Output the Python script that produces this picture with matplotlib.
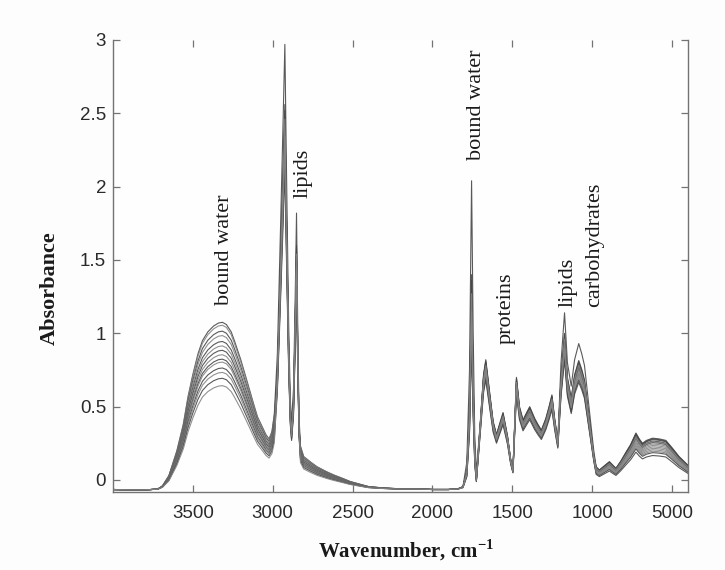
import numpy as np
import matplotlib
matplotlib.use("Agg")
import matplotlib.pyplot as plt

plt.rcParams['mathtext.fontset'] = 'custom'
plt.rcParams['mathtext.rm'] = 'Liberation Serif'
plt.rcParams['mathtext.bf'] = 'Liberation Serif:bold'

# ---- data ----
# reference spectrum (top sample), wavenumber in cm-1 and absorbance
wn_pts = [4000, 3900, 3800, 3720, 3690, 3650, 3600, 3560, 3530, 3500, 3468, 3440,
          3406, 3370, 3340, 3315, 3290, 3260, 3240, 3200, 3157, 3120, 3095, 3060,
          3043, 3023, 3005, 2990, 2971, 2950, 2935, 2924, 2915, 2900, 2890, 2882,
          2870, 2860, 2851, 2843, 2835, 2826, 2806, 2760, 2722, 2660, 2619, 2560,
          2516, 2450, 2400, 2300, 2200, 2100, 2000, 1900, 1840, 1809, 1785, 1768,
          1755, 1745, 1735, 1725, 1700, 1680, 1666, 1640, 1620, 1599, 1580, 1558,
          1530, 1510, 1496, 1474, 1455, 1433, 1410, 1391, 1360, 1340, 1318, 1290,
          1270, 1252, 1235, 1215, 1195, 1173, 1155, 1131, 1110, 1084, 1065, 1048,
          1020, 990, 975, 955, 920, 892, 870, 851, 820, 788, 760, 726, 705, 685,
          660, 622, 580, 539, 500, 456, 400]
abs_pts = [-0.065, -0.068, -0.068, -0.062, -0.04, 0.03, 0.20, 0.38, 0.57, 0.72, 0.86, 0.95,
           1.01, 1.05, 1.07, 1.075, 1.06, 1.01, 0.95, 0.82, 0.66, 0.52, 0.43, 0.35,
           0.31, 0.28, 0.33, 0.45, 0.86, 1.77, 2.45, 2.97, 2.20, 1.05, 0.55, 0.39,
           0.62, 1.20, 1.82, 1.00, 0.42, 0.23, 0.16, 0.12, 0.09, 0.055, 0.035, 0.01,
           -0.01, -0.03, -0.045, -0.055, -0.06, -0.06, -0.065, -0.065, -0.06, -0.045, 0.12, 0.75,
           2.04, 1.00, 0.30, 0.05, 0.40, 0.72, 0.82, 0.58, 0.40, 0.31, 0.38, 0.46,
           0.30, 0.14, 0.07, 0.70, 0.50, 0.41, 0.46, 0.50, 0.42, 0.38, 0.34, 0.42,
           0.50, 0.58, 0.42, 0.27, 0.80, 1.14, 0.80, 0.64, 0.82, 0.93, 0.86, 0.78,
           0.50, 0.20, 0.09, 0.068, 0.10, 0.125, 0.10, 0.08, 0.13, 0.19, 0.24, 0.32, 0.28, 0.25,
           0.27, 0.285, 0.28, 0.27, 0.22, 0.16, 0.10]

# band heights of each sample (sample 0 = reference)
water_peak = [1.07, 1.05, 1.01, 0.98, 0.94, 0.91, 0.88, 0.85, 0.82, 0.80, 0.76, 0.73, 0.69, 0.64]
ch_peak = [2.97, 2.41, 2.56, 2.30, 2.48, 2.38, 2.52, 2.25, 2.44, 2.34, 2.20, 2.46, 2.12, 2.28]
ch2_peak = [1.82, 1.50, 1.60, 1.42, 1.56, 1.47, 1.58, 1.40, 1.52, 1.45, 1.36, 1.54, 1.32, 1.44]
co_peak = [2.04, 1.12, 1.40, 1.05, 1.30, 1.18, 1.36, 1.00, 1.24, 1.15, 0.96, 1.27, 0.92, 1.08]
amide_peak = [0.82, 0.78, 0.80, 0.74, 0.79, 0.76, 0.81, 0.72, 0.77, 0.75, 0.70, 0.78, 0.68, 0.73]
sugar_peak = [1.14, 0.93, 1.00, 0.88, 0.97, 0.92, 0.99, 0.86, 0.95, 0.90, 0.84, 0.96, 0.82, 0.89]
low_peak = [0.29, 0.25, 0.28, 0.22, 0.27, 0.24, 0.285, 0.20, 0.26, 0.23, 0.19, 0.265, 0.17, 0.21]

xticks = [3500, 3000, 2500, 2000, 1500, 1000, 500]
xticklabels = ['3500', '3000', '2500', '2000', '1500', '1000', '5000']
yticks = [0, 0.5, 1, 1.5, 2, 2.5, 3]
yticklabels = ['0', '0.5', '1', '1.5', '2', '2.5', '3']

notes = [("bound water", 3300, 1.19), ("lipids", 2808, 1.92),
         ("bound water", 1725, 2.18), ("proteins", 1538, 0.93),
         ("lipids", 1151, 1.18), ("carbohydrates", 983, 1.18)]

# ---- build sample curves ----
wn = np.array(wn_pts, dtype=float)
ref = np.array(abs_pts)
base = -0.065
bands = [water_peak, ch_peak, ch2_peak, water_peak, co_peak, amide_peak, sugar_peak, low_peak]
region = np.select([wn >= 2990, wn >= 2888, wn >= 2835, wn >= 1800,
                    wn >= 1720, wn >= 1210, wn >= 985], [0, 1, 2, 3, 4, 5, 6], 7)

fig = plt.figure(figsize=(7.25, 5.7), dpi=100, facecolor='#fdfdfd')
ax = fig.add_axes([113/725, 1-492/570, 575/725, 452/570])
ax.set_facecolor('#fefefe')

n = len(water_peak)
for i in range(n):
    fac = np.array([(bands[r][i] - base) / (bands[r][0] - base) for r in region])
    y = base + (ref - base) * fac
    col = '0.28' if i % 2 == 0 else '0.52'
    ax.plot(wn, y, color=col, lw=0.8, alpha=0.9)

for txt, x, y in notes:
    ax.text(x, y, txt, rotation=90, ha='center', va='bottom', fontsize=16,
            family='Liberation Serif', color='#1a1a1a')

ax.set_xlim(4000, 400)
ax.set_ylim(-0.082, 3.0)
ax.set_xticks(xticks)
ax.set_xticklabels(xticklabels)
ax.set_yticks(yticks)
ax.set_yticklabels(yticklabels)

for lab in ax.get_xticklabels() + ax.get_yticklabels():
    lab.set_family('Liberation Sans')
    lab.set_fontsize(13.5)
    lab.set_color('#2a2a2a')

ax.tick_params(direction='in', length=5, width=0.9, color='0.45',
               top=True, right=True)
ax.tick_params(axis='x', pad=9)
ax.tick_params(axis='y', pad=5)

for s in ['left', 'bottom', 'right']:
    ax.spines[s].set_color('0.45')
    ax.spines[s].set_linewidth(1.0)
ax.spines['top'].set_visible(False)

ax.set_ylabel('Absorbance', family='Liberation Serif', fontweight='bold',
              fontsize=16, color='#1a1a1a')
ax.yaxis.set_label_coords(-0.093, 0.45)
ax.set_xlabel(r'Wavenumber, cm$^{\mathbf{-1}}$', family='Liberation Serif',
              fontweight='bold', fontsize=15, color='#1a1a1a')
ax.xaxis.set_label_coords(0.51, -0.1)

fig.savefig('out.png', dpi=100, facecolor=fig.get_facecolor())
